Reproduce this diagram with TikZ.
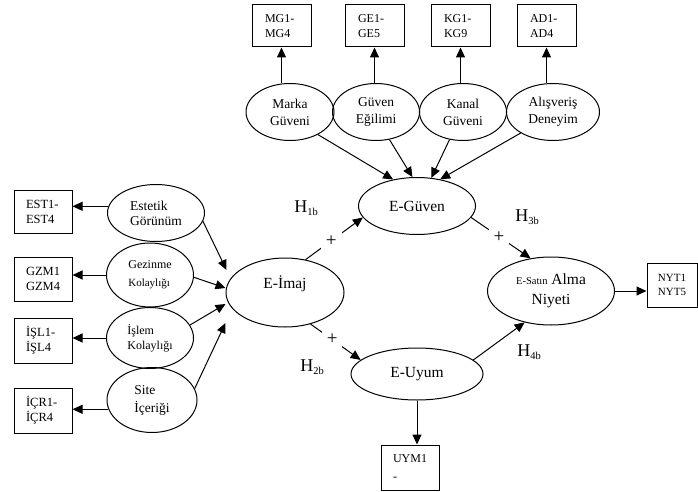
\documentclass[tikz,border=0pt]{standalone}
\usepackage{fontspec}
\setmainfont{Liberation Serif}
\usetikzlibrary{shapes.geometric,arrows.meta,calc}
\newcommand{\fsz}[2]{\fontsize{#1}{#2}\selectfont}
\newcommand{\hyp}[1]{H{\fsz{10.5}{10}\raisebox{-3pt}{#1}}}
\begin{document}
\begin{tikzpicture}[x=1pt,y=-1pt,
  ell/.style={ellipse,draw,line width=1pt,inner sep=0pt,align=center},
  bx/.style={rectangle,draw,line width=1pt,inner sep=0pt,align=left},
  arr/.style={-{Triangle[length=10pt,width=9pt]},line width=1pt},
  plus/.style={fill=white,inner sep=5pt,font=\fsz{19}{19}},
  hl/.style={font=\fsz{18}{18},inner sep=0pt}]
\useasboundingbox (0,0) rectangle (698,492);

% top ellipses
\node[ell,minimum width=88pt,minimum height=57pt,font=\fsz{13.5}{17}] (mg) at (290,112) {Marka\\Güveni};
\node[ell,minimum width=87pt,minimum height=57pt,font=\fsz{13.5}{17}] (ge) at (376,112) {Güven\\Eğilimi};
\node[ell,minimum width=87pt,minimum height=57pt,font=\fsz{13.5}{17}] (kg) at (463,112) {Kanal\\Güveni};
\node[ell,minimum width=93pt,minimum height=57pt,font=\fsz{13.5}{17}] (ad) at (553,112) {Alışveriş\\Deneyim};

% top boxes
\node[bx,minimum width=59pt,minimum height=42pt,text width=33pt,font=\fsz{12}{15}] (bmg) at (281.5,26) {MG1-\\MG4};
\node[bx,minimum width=59pt,minimum height=42pt,text width=33pt,font=\fsz{12}{15}] (bge) at (374.5,26) {GE1-\\GE5};
\node[bx,minimum width=59pt,minimum height=42pt,text width=33pt,font=\fsz{12}{15}] (bkg) at (460.5,26) {KG1-\\KG9};
\node[bx,minimum width=59pt,minimum height=42pt,text width=33pt,font=\fsz{12}{15}] (bad) at (546.5,26) {AD1-\\AD4};

% central constructs
\node[ell,minimum width=117pt,minimum height=57pt,font=\fsz{15.5}{18}] (eg) at (417,206) {E-Güven};
\node[ell,minimum width=118pt,minimum height=69pt,font=\fsz{15.5}{18},text depth=20pt] (ei) at (285,292.5) {E-İmaj};
\node[ell,minimum width=127pt,minimum height=68pt,font=\fsz{15.5}{20}] (es) at (551,291) {{\fsz{10.5}{20}E-Satın} Alma\\Niyeti};
\node[ell,minimum width=132pt,minimum height=52pt,font=\fsz{15.5}{18}] (eu) at (417,374) {E-Uyum};

% left ellipses
\node[ell,minimum width=97pt,minimum height=57pt,align=left,font=\fsz{13.5}{15}] (est) at (156,213) {Estetik\\Görünüm};
\node[ell,minimum width=87pt,minimum height=64pt,align=left,font=\fsz{12}{18}] (gzm) at (150,275) {Gezinme\\{\fsz{11}{18}Kolaylığı}};
\node[ell,minimum width=87pt,minimum height=61pt,align=left,font=\fsz{12}{15}] (isl) at (150,338) {İşlem\\Kolaylığı};
\node[ell,minimum width=90pt,minimum height=65pt,align=left,font=\fsz{13.5}{18}] (icr) at (152,400) {Site\\İçeriği};

% left boxes
\node[bx,minimum width=58pt,minimum height=43pt,text width=34pt,font=\fsz{12.5}{15}] (best) at (43,211.5) {EST1-\\EST4};
\node[bx,minimum width=58pt,minimum height=44pt,text width=34pt,font=\fsz{12.5}{15}] (bgzm) at (43,279) {GZM1\\GZM4};
\node[bx,minimum width=58pt,minimum height=45pt,text width=34pt,font=\fsz{12.5}{15}] (bisl) at (43,340.5) {İŞL1-\\İŞL4};
\node[bx,minimum width=58pt,minimum height=45pt,text width=34pt,font=\fsz{12.5}{15}] (bicr) at (43,410.5) {İÇR1-\\İÇR4};

% right and bottom boxes
\node[bx,minimum width=50pt,minimum height=44pt,align=center,font=\fsz{11}{14}] (bnyt) at (672,285) {NYT1\\NYT5};
\node[bx,minimum width=58pt,minimum height=45pt,text width=34pt,font=\fsz{12}{18}] (buym) at (410,467.5) {UYM1\\-};

% hypothesis labels
\node[hl] (h1) at (306,208) {\hyp{1b}};
\node[hl] (h3) at (527,217) {\hyp{3b}};
\node[hl] (h2) at (312,367) {\hyp{2b}};
\node[hl] (h4) at (529,352) {\hyp{4b}};

% indicator arrows
\draw[arr] (mg.north -| bmg.south) -- (bmg.south);
\draw[arr] (ge.north -| bge.south) -- (bge.south);
\draw[arr] (kg.north -| bkg.south) -- (bkg.south);
\draw[arr] (ad.north -| bad.south) -- (bad.south);

\draw[arr] (est.172) -- (est.172 -| best.east);
\draw[arr] (gzm.west) -- (gzm.west -| bgzm.east);
\draw[arr] (isl.west) -- (isl.west -| bisl.east);
\draw[arr] (icr.192) -- (icr.192 -| bicr.east);

\draw[arr] (es.east) -- (es.east -| bnyt.west);
\draw[arr] (eu.south) -- (eu.south |- buym.north);

% antecedents of E-Güven
\draw[arr] (mg.-39) -- (eg.132);
\draw[arr] (ge.-64) -- (eg.99);
\draw[arr] (kg.-116) -- (eg.63);
\draw[arr] (ad.-147) -- (eg.49);

% antecedents of E-İmaj
\draw[arr] (est.-10) -- ($(ei.west)+(1,-22.5)$);
\draw[arr] (gzm.-3) -- ($(ei.west)+(0,-4.5)$);
\draw[arr] (isl.18) -- ($(ei.west)+(0,11.5)$);
\draw[arr] (icr.15) -- ($(ei.west)+(0,30.5)$);

% hypotheses
\draw[arr] (ei.58) -- node[plus,pos=0.45] (p1) {+} (eg.192);
\draw[arr] (ei.-51) -- node[plus,pos=0.43] (p2) {+} (eu.166);
\draw[arr] (eg.-12) -- node[plus,pos=0.47] (p3) {+} (es.122);
\draw[arr] (eu.14) -- (es.230);
\end{tikzpicture}
\end{document}
